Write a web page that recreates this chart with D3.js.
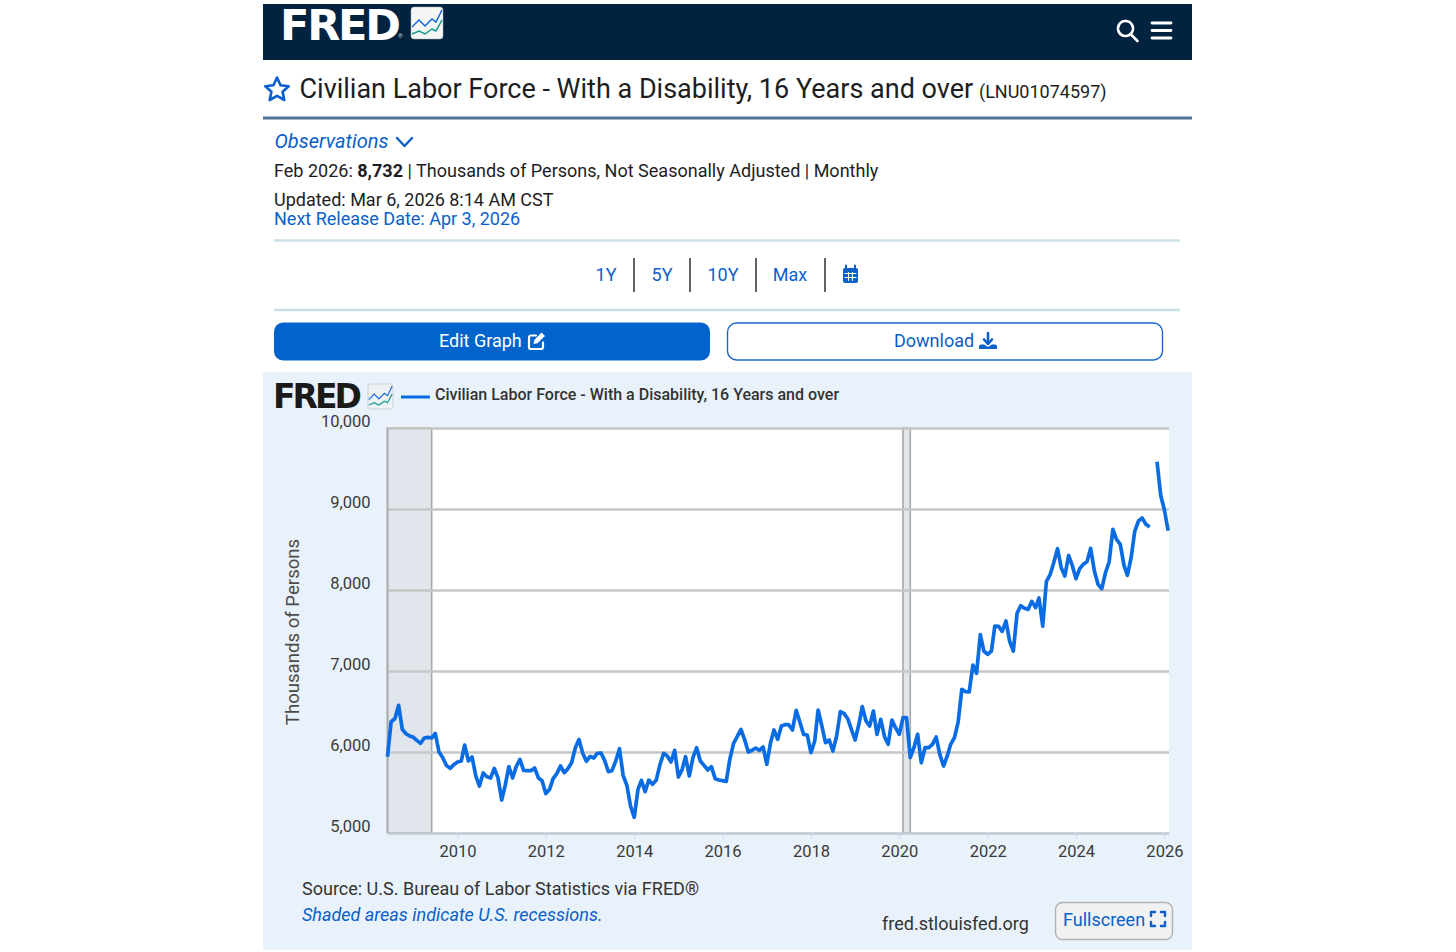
<!DOCTYPE html>
<html lang="en">
<head>
<meta charset="UTF-8">
<title>FRED - Civilian Labor Force - With a Disability</title>
<script src="https://d3js.org/d3.v7.min.js"></script>
<style>
  body { margin: 0; background: #fff; }
  svg { display: block; font-family: Roboto, sans-serif; }
</style>
</head>
<body>
<script>
// monthly values, thousands of persons, Jun 2008 to Feb 2026 (Oct 2025 was never published)
const firstMonth = new Date(2008, 5, 1);
const laborForce = [
  5942, 6374, 6411, 6576, 6280, 6226, 6198,
  6181, 6140, 6107, 6173, 6181, 6173, 6230, 6000, 5930, 5835, 5798, 5844,
  5877, 5889, 6086, 5889, 5938, 5704, 5580, 5741, 5695, 5679, 5798, 5683,
  5407, 5600, 5819, 5679, 5819, 5909, 5774, 5770, 5770, 5802, 5679, 5646,
  5486, 5539, 5671, 5733, 5827, 5745, 5794, 5868, 6053, 6156, 5984, 5885,
  5946, 5926, 5984, 5988, 5897, 5757, 5770, 5889, 6041, 5712, 5589, 5333,
  5193, 5539, 5650, 5510, 5654, 5601, 5650, 5840, 5984, 5951, 5877, 6021,
  5691, 5786, 5942, 5704, 5930, 6053, 5889, 5835, 5778, 5819, 5671, 5654,
  5646, 5638, 5909, 6107, 6189, 6280, 6156, 6000, 6021, 6049, 6021, 6062,
  5848, 6115, 6272, 6156, 6321, 6337, 6337, 6272, 6514, 6370, 6218, 6210,
  5992, 6136, 6518, 6321, 6115, 6148, 6012, 6198, 6498, 6477, 6411, 6280,
  6148, 6342, 6560, 6383, 6321, 6506, 6218, 6403, 6189, 6095, 6395, 6300,
  6218, 6424, 6424, 5930, 6053, 6218, 5868, 6053, 6053, 6095, 6185, 5971,
  5827, 5951, 6095, 6177, 6362, 6774, 6745, 6741, 7074, 6971, 7448, 7243,
  7206, 7247, 7555, 7551, 7490, 7617, 7370, 7247, 7712, 7806, 7774, 7761,
  7860, 7782, 7901, 7555, 8103, 8189, 8337, 8510, 8276, 8173, 8428, 8304,
  8140, 8263, 8317, 8350, 8514, 8234, 8070, 8016, 8214, 8346, 8749, 8625,
  8564, 8304, 8181, 8399, 8728, 8852, 8889, 8811, 8778, null, 9584, 9173,
  8988, 8732
];
const recessions = [
  [new Date(2007, 11, 1), new Date(2009, 5, 1)],
  [new Date(2020, 1, 1), new Date(2020, 3, 1)]
];
const yTicks = [5000, 6000, 7000, 8000, 9000, 10000];
const xTickYears = [2010, 2012, 2014, 2016, 2018, 2020, 2022, 2024, 2026];
const rangeButtons = ["1Y", "5Y", "10Y", "Max"];

const blue = "#0a5fc8";
const ink = "#1d1d1f";
const plot = { left: 387.5, right: 1169, top: 428, bottom: 833 };

const svg = d3.select("body").append("svg")
  .attr("width", 1456)
  .attr("height", 952);

function label(x, y, str, size, color) {
  return svg.append("text")
    .attr("x", x).attr("y", y)
    .attr("font-size", size)
    .attr("fill", color || ink)
    .text(str);
}

function box(x, y, w, h, fill) {
  return svg.append("rect")
    .attr("x", x).attr("y", y)
    .attr("width", w).attr("height", h)
    .attr("fill", fill);
}

function hr(y, x1, x2, color, width) {
  svg.append("line")
    .attr("x1", x1).attr("x2", x2)
    .attr("y1", y).attr("y2", y)
    .attr("stroke", color)
    .attr("stroke-width", width);
}

// little icon paths, drawn in their own local coordinates
function icon(x, y, d, stroke, width, fill) {
  svg.append("path")
    .attr("transform", "translate(" + x + "," + y + ")")
    .attr("d", d)
    .attr("fill", fill || "none")
    .attr("stroke", stroke || "none")
    .attr("stroke-width", width || 0)
    .attr("stroke-linecap", "round")
    .attr("stroke-linejoin", "round");
}

function fredLogo(x, baseline, size, spacing, color) {
  label(x, baseline, "FRED", size, color)
    .attr("font-family", "DejaVu Sans")
    .attr("font-weight", 700)
    .attr("letter-spacing", spacing);
}

function chartBadge(x, y, s, bg) {
  svg.append("rect")
    .attr("x", x).attr("y", y)
    .attr("width", 32 * s).attr("height", 32 * s)
    .attr("rx", 3 * s)
    .attr("fill", bg)
    .attr("stroke", "#a9b0b8")
    .attr("stroke-width", 0.5);
  const g = svg.append("g").attr("transform", "translate(" + x + "," + y + ") scale(" + s + ")");
  g.append("path")
    .attr("d", "M1 20L8 13L14 19L21 12L25 15L31 3")
    .attr("fill", "none").attr("stroke", "#1568dc").attr("stroke-width", 1.5);
  g.append("path")
    .attr("d", "M1 27L8 24L14 27L21 22L25 24L31 13")
    .attr("fill", "none").attr("stroke", "#0f9a8a").attr("stroke-width", 1.5);
}

// top banner
box(263, 4, 929, 56, "#012340");
fredLogo(280, 40, 43, -2.2, "#fff");
label(398, 38, "®", 6, "#c8d2dc");
chartBadge(411, 7, 1, "#f4f6f4");
icon(1115.5, 19, "M10 2a7.5 7.5 0 1 0 0.01 0M15.5 15.5L22 22", "#fff", 2.6);
icon(1152, 23, "M0 0H19M0 7.5H19M0 15H19", "#fff", 2.8);

// title
icon(264, 76, "M13 1.5L16.5 9.3L24.7 10.2L18.6 15.8L20.3 24L13 19.8L5.7 24L7.4 15.8L1.3 10.2L9.5 9.3Z", "#0a5fd0", 2.6);
label(299.5, 98, "Civilian Labor Force - With a Disability, 16 Years and over", 27);
label(979, 98, "(LNU01074597)", 18);
hr(118, 263, 1192, "#4f7396", 3);

// observations block
label(274.5, 148, "Observations", 20, blue).attr("font-style", "italic");
icon(397, 138, "M0 0L7.5 8L15 0", blue, 2.4);
const obs = label(274, 177, "Feb 2026: ", 18.03);
obs.append("tspan").attr("font-weight", 700).text("8,732");
obs.append("tspan").text(" | Thousands of Persons, Not Seasonally Adjusted | Monthly");
label(274, 206, "Updated: Mar 6, 2026 8:14 AM CST", 18);
label(274, 225, "Next Release Date: Apr 3, 2026", 18, blue);
hr(240.5, 274, 1180, "#c8e0e6", 2.5);

// date range buttons
const buttonX = [606, 662, 723, 790];
svg.append("g").selectAll("text")
  .data(rangeButtons)
  .join("text")
  .attr("x", (d, i) => buttonX[i])
  .attr("y", 281)
  .attr("text-anchor", "middle")
  .attr("font-size", 18)
  .attr("fill", blue)
  .text(d => d);
svg.append("g").selectAll("line")
  .data([634, 690, 756, 825])
  .join("line")
  .attr("x1", d => d).attr("x2", d => d)
  .attr("y1", 258).attr("y2", 292)
  .attr("stroke", "#222")
  .attr("stroke-width", 1.4);
box(843, 268, 15, 15, "#0a5fc8").attr("rx", 2);
icon(846, 265.5, "M0 0V4M9 0V4", "#0a5fc8", 2);
icon(845, 272.5, "M0 1H11M0 5H11M3.6 0V8M7.4 0V8", "#fff", 1);
hr(310, 274, 1180, "#c8e0e6", 2.5);

// edit / download buttons
box(274, 322.5, 436, 38, "#0064cc").attr("rx", 9);
label(439, 347, "Edit Graph", 18, "#fff");
icon(528, 334, "M8 1.5H3a2 2 0 0 0-2 2V13a2 2 0 0 0 2 2h10a2 2 0 0 0 2-2V8.5", "#fff", 2.2);
icon(528, 331.5, "M5.5 12.5L6.3 8.5L13.5 1L17 4.5L9.5 11.7Z", "none", 0, "#fff");
box(727.5, 323, 435, 37, "#fff").attr("rx", 9).attr("stroke", "#1a66c9").attr("stroke-width", 1.4);
label(894, 347, "Download", 18, blue);
icon(979, 332, "M9 1V11M5 7.5L9 12L13 7.5", blue, 2.6);
icon(979, 344, "M0 2.5a2 2 0 0 1 2-2H5L9 3L13 0.5H16a2 2 0 0 1 2 2V5H0Z", "none", 0, blue);

// chart panel
box(263, 372, 929, 578, "#e9f2fa");
fredLogo(273, 408, 33, -3, "#1a1a1a");
chartBadge(368, 384, 0.78, "#eef2f4");
svg.append("line")
  .attr("x1", 401).attr("x2", 430)
  .attr("y1", 397).attr("y2", 397)
  .attr("stroke", "#0a6ce3")
  .attr("stroke-width", 3);
label(435, 400, "Civilian Labor Force - With a Disability, 16 Years and over", 16, "#333")
  .attr("font-weight", 500);

const dates = laborForce.map((v, i) => d3.timeMonth.offset(firstMonth, i));

const x = d3.scaleTime()
  .domain([firstMonth, new Date(2026, 1, 8)])
  .range([plot.left, plot.right]);

const y = d3.scaleLinear()
  .domain([5000, 10000])
  .range([plot.bottom, plot.top]);

box(plot.left, plot.top, plot.right - plot.left, plot.bottom - plot.top, "#fff");

// recession bands, clipped at the left edge of the plot
svg.append("g").selectAll("rect")
  .data(recessions)
  .join("rect")
  .attr("x", d => x(d3.max([d[0], firstMonth])))
  .attr("y", plot.top)
  .attr("width", d => x(d[1]) - x(d3.max([d[0], firstMonth])))
  .attr("height", plot.bottom - plot.top)
  .attr("fill", "#e1e5ec")
  .attr("stroke", "#a6a8aa")
  .attr("stroke-width", 1.6);

// y axis carries the gridlines; labels sit just above each line
const yAxis = d3.axisLeft(y)
  .tickValues(yTicks)
  .tickSize(-(plot.right - plot.left))
  .tickFormat(d3.format(","));
const yG = svg.append("g")
  .attr("transform", "translate(" + plot.left + ",0)")
  .call(yAxis);
yG.select(".domain").remove();
yG.selectAll("line").attr("stroke", "#c6c6c6").attr("stroke-width", 2.4);
yG.selectAll("text")
  .attr("x", -17)
  .attr("dy", "-0.12em")
  .attr("font-family", "Roboto")
  .attr("font-size", 16.5)
  .attr("fill", "#3a3a3a");

svg.append("line")
  .attr("x1", plot.left).attr("x2", plot.left)
  .attr("y1", plot.top).attr("y2", plot.bottom)
  .attr("stroke", "#a6a8aa")
  .attr("stroke-width", 1.6);

const xAxis = d3.axisBottom(x)
  .tickValues(xTickYears.map(yr => new Date(yr, 0, 1)))
  .tickSize(6)
  .tickSizeOuter(0)
  .tickFormat(d3.timeFormat("%Y"));
const xG = svg.append("g")
  .attr("transform", "translate(0," + plot.bottom + ")")
  .call(xAxis);
xG.select(".domain").attr("stroke", "#c3ccd8").attr("stroke-width", 1.6);
xG.selectAll("line").attr("stroke", "#ccd6eb");
xG.selectAll("text")
  .attr("y", 12)
  .attr("font-family", "Roboto")
  .attr("font-size", 16.5)
  .attr("fill", "#3a3a3a");

const line = d3.line()
  .defined((d, i) => laborForce[i] !== null)
  .x((d, i) => x(dates[i]))
  .y(d => y(d));

svg.append("path")
  .datum(laborForce)
  .attr("d", line)
  .attr("fill", "none")
  .attr("stroke", "#0a6ce3")
  .attr("stroke-width", 3.7)
  .attr("stroke-linejoin", "round");

label(0, 0, "Thousands of Persons", 18.6, "#4a4a4a")
  .attr("text-anchor", "middle")
  .attr("transform", "translate(299,632) rotate(-90)");

// footer
label(302, 895, "Source: U.S. Bureau of Labor Statistics via FRED®", 18, "#333");
label(302, 921, "Shaded areas indicate U.S. recessions.", 18, blue).attr("font-style", "italic");
label(882, 930, "fred.stlouisfed.org", 18, "#333");
box(1055.5, 902.5, 117, 37, "#eff1f3").attr("rx", 7).attr("stroke", "#b0b2b4").attr("stroke-width", 1.4);
label(1063, 926, "Fullscreen", 18, blue);
icon(1151, 912, "M0 4V0H4M10 0H14V4M14 10V14H10M4 14H0V10", blue, 2.4);
</script>
</body>
</html>
